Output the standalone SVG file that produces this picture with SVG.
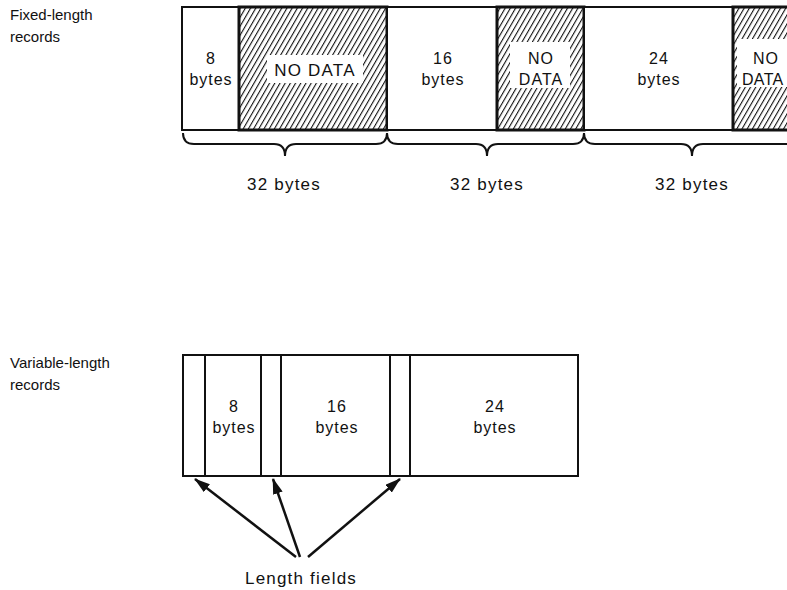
<svg xmlns="http://www.w3.org/2000/svg" width="787" height="590" viewBox="0 0 787 590">
<defs>
<pattern id="hatch" patternUnits="userSpaceOnUse" width="4.5" height="5" patternTransform="rotate(30)">
<rect width="4.5" height="5" fill="#fff"/>
<line x1="0" y1="0" x2="0" y2="5" stroke="#111" stroke-width="2.2"/>
</pattern>
<marker id="ah" markerWidth="16" markerHeight="10" refX="15" refY="5" orient="auto" markerUnits="userSpaceOnUse">
<path d="M0,0 L16,5 L0,10 Z" fill="#111"/>
</marker>
<style>
.t{font-family:"Liberation Sans",Arial,sans-serif;font-size:16px;letter-spacing:1px;fill:#111;text-anchor:middle}
.b{font-family:"Liberation Sans",Arial,sans-serif;font-size:17px;letter-spacing:1.2px;fill:#111;text-anchor:middle}
.l{font-family:"Liberation Sans",Arial,sans-serif;font-size:15px;fill:#111}
.cell{fill:#fff;stroke:#111;stroke-width:2}
.hat{fill:url(#hatch);stroke:#111;stroke-width:3}
.lab{fill:#fff}
.brace{fill:none;stroke:#111;stroke-width:2}
.conn{stroke:#111;stroke-width:2.5;fill:none;marker-end:url(#ah)}
</style>
</defs>
<rect width="787" height="590" fill="#fff"/>
<g id="label-fixed">
<text class="l" x="10" y="20">Fixed-length</text>
<text class="l" x="10" y="42">records</text>
</g>
<g id="label-variable">
<text class="l" x="10" y="368">Variable-length</text>
<text class="l" x="10" y="390">records</text>
</g>
<g id="fixed-8">
<rect class="cell" x="182" y="7" width="57" height="123"/>
<text class="t" x="211" y="64">8</text>
<text class="t" x="211" y="85">bytes</text>
</g>
<g id="fixed-nodata-1">
<rect class="hat" x="239" y="7" width="148" height="123"/>
<rect class="lab" x="267" y="55" width="96" height="28"/>
<text class="b" x="315" y="76">NO DATA</text>
</g>
<g id="fixed-16">
<rect class="cell" x="387" y="7" width="110" height="123"/>
<text class="t" x="443" y="64">16</text>
<text class="t" x="443" y="85">bytes</text>
</g>
<g id="fixed-nodata-2">
<rect class="hat" x="497" y="7" width="87" height="123"/>
<rect class="lab" x="510" y="42" width="60" height="46"/>
<text class="t" x="541" y="64">NO</text>
<text class="t" x="541" y="85">DATA</text>
</g>
<g id="fixed-24">
<rect class="cell" x="584" y="7" width="149" height="123"/>
<text class="t" x="659" y="64">24</text>
<text class="t" x="659" y="85">bytes</text>
</g>
<g id="fixed-nodata-3">
<rect class="hat" x="733" y="7" width="60" height="123"/>
<rect class="lab" x="737" y="39" width="56" height="48"/>
<text class="t" x="766" y="64">NO</text>
<text class="t" x="742" y="85" style="text-anchor:start;letter-spacing:0.3px">DATA</text>
</g>
<g id="braces">
<path class="brace" d="M183,133 Q183,144 194,144 L274,144 Q285,144 285,156 Q285,144 296,144 L376,144 Q387,144 387,133"/>
<path class="brace" d="M387,133 Q387,144 398,144 L476,144 Q487,144 487,156 Q487,144 498,144 L573,144 Q584,144 584,133"/>
<path class="brace" d="M584,133 Q584,144 595,144 L681,144 Q692,144 692,156 Q692,144 703,144 L790,144"/>
<text class="b" x="284" y="190">32 bytes</text>
<text class="b" x="487" y="190">32 bytes</text>
<text class="b" x="692" y="190">32 bytes</text>
</g>
<g id="variable-record">
<rect class="cell" x="183" y="355" width="395" height="121"/>
<line x1="205" y1="355" x2="205" y2="476" stroke="#111" stroke-width="2"/>
<line x1="261" y1="355" x2="261" y2="476" stroke="#111" stroke-width="2"/>
<line x1="281" y1="355" x2="281" y2="476" stroke="#111" stroke-width="2"/>
<line x1="390" y1="355" x2="390" y2="476" stroke="#111" stroke-width="2"/>
<line x1="410" y1="355" x2="410" y2="476" stroke="#111" stroke-width="2"/>
<text class="t" x="234" y="412">8</text>
<text class="t" x="234" y="433">bytes</text>
<text class="t" x="337" y="412">16</text>
<text class="t" x="337" y="433">bytes</text>
<text class="t" x="495" y="412">24</text>
<text class="t" x="495" y="433">bytes</text>
</g>
<g id="connectors">
<line class="conn" x1="296" y1="557" x2="195" y2="479"/>
<line class="conn" x1="300" y1="557" x2="273" y2="479"/>
<line class="conn" x1="308" y1="557" x2="400" y2="479"/>
</g>
<g id="label-length">
<text class="b" x="301" y="584">Length fields</text>
</g>
</svg>
